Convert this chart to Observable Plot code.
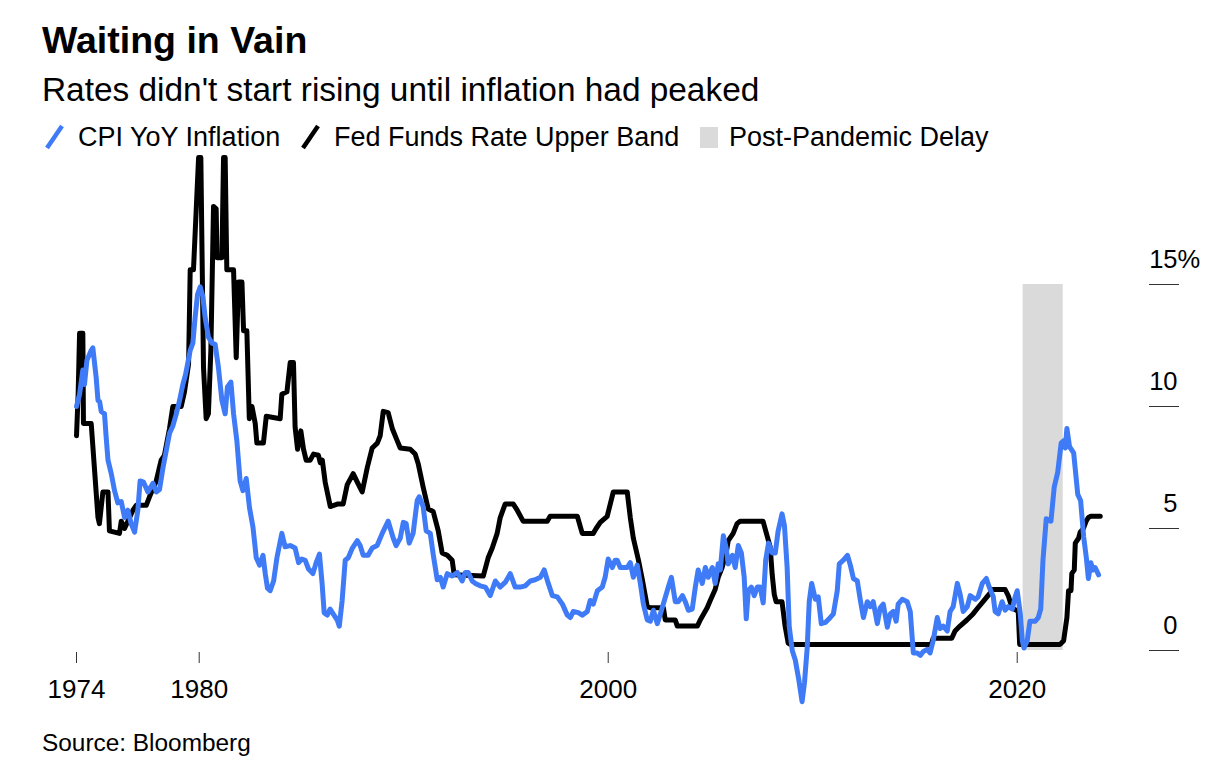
<!DOCTYPE html>
<html>
<head>
<meta charset="utf-8">
<script src="https://cdn.jsdelivr.net/npm/d3@7"></script>
<script src="https://cdn.jsdelivr.net/npm/@observablehq/plot@0.6"></script>
<style>
  html, body { margin: 0; padding: 0; background: #fff; }
  body { font-family: "Liberation Sans", Arial, sans-serif; color: #000; }
  #wrap { position: relative; width: 1231px; height: 768px; overflow: hidden; }
  .abs { position: absolute; white-space: nowrap; line-height: 1; }
  #title { left: 42px; top: 22px; font-size: 37.5px; font-weight: bold; }
  #subtitle { left: 42px; top: 73px; font-size: 33.4px; }
  .leg { top: 123.5px; font-size: 27px; }
  #source { left: 42px; top: 731px; font-size: 24.4px; }
  #chart { position: absolute; left: 0; top: 140px; }
  #chart svg { overflow: visible; }
</style>
</head>
<body>
<div id="wrap">
  <div id="title" class="abs"></div>
  <div id="subtitle" class="abs"></div>
  <div id="legend"></div>
  <div id="chart"></div>
  <div id="source" class="abs"></div>
</div>
<script>
// ---- Text ----
const titleText = "Waiting in Vain";
const subtitleText = "Rates didn't start rising until inflation had peaked";
const sourceText = "Source: Bloomberg";
const seriesNames = ["CPI YoY Inflation", "Fed Funds Rate Upper Band", "Post-Pandemic Delay"];

// ---- Axis ticks ----
const xTicks = [1974, 1980, 2000, 2020];
const yTicks = [0, 5, 10, 15];

// ---- Shaded period (decimal years, value range %) ----
const delayPeriod = [{start: 2020.29, end: 2022.25, low: 0, high: 15}];

// ---- CPI YoY inflation, % (decimal year, value) ----
const cpi = [
[1974.00,10.0],[1974.15,10.5],[1974.31,11.5],[1974.39,10.9],[1974.51,11.9],[1974.72,12.3],[1974.80,12.4],
[1974.96,11.2],[1975.05,10.25],[1975.13,10.2],[1975.21,9.8],[1975.37,9.7],[1975.45,8.75],[1975.54,7.8],
[1975.70,7.25],[1975.86,6.55],[1976.02,6.05],[1976.19,6.1],[1976.35,5.45],[1976.51,5.75],[1976.67,5.2],
[1976.84,4.85],[1977.00,5.75],[1977.11,6.95],[1977.28,6.9],[1977.49,6.5],[1977.74,6.85],[1977.90,6.5],
[1978.06,6.6],[1978.23,7.5],[1978.39,8.2],[1978.55,8.9],[1978.71,9.2],[1978.88,9.7],[1979.04,10.25],
[1979.20,10.9],[1979.33,11.3],[1979.40,11.6],[1979.56,12.3],[1979.69,12.6],[1979.80,13.65],[1979.92,14.6],
[1980.05,14.9],[1980.18,14.5],[1980.29,13.65],[1980.45,12.85],[1980.62,12.6],[1980.78,12.55],[1980.94,11.6],
[1981.11,10.25],[1981.27,9.7],[1981.38,10.8],[1981.55,11.0],[1981.68,9.7],[1981.84,8.6],[1982.00,6.95],
[1982.14,6.55],[1982.30,7.05],[1982.46,5.85],[1982.63,5.05],[1982.79,3.8],[1982.95,3.5],[1983.12,3.9],
[1983.23,3.15],[1983.34,2.55],[1983.47,2.45],[1983.64,2.85],[1983.80,3.8],[1984.04,4.8],[1984.20,4.25],
[1984.45,4.3],[1984.69,4.2],[1984.86,3.6],[1985.02,3.75],[1985.18,3.7],[1985.34,3.35],[1985.56,3.15],
[1985.72,3.6],[1985.88,3.95],[1986.01,2.75],[1986.11,1.55],[1986.26,1.45],[1986.40,1.7],[1986.55,1.5],
[1986.75,1.25],[1986.85,1.0],[1986.99,2.05],[1987.14,3.7],[1987.29,3.8],[1987.49,4.2],[1987.73,4.5],
[1987.87,4.3],[1988.02,3.9],[1988.26,3.9],[1988.46,4.2],[1988.70,4.3],[1988.95,4.8],[1989.24,5.3],
[1989.49,4.6],[1989.63,4.3],[1989.83,4.6],[1989.98,5.25],[1990.12,5.2],[1990.27,4.4],[1990.46,4.8],
[1990.66,6.15],[1990.76,6.3],[1990.95,5.9],[1991.10,4.9],[1991.30,4.8],[1991.44,3.95],[1991.64,2.9],
[1991.79,3.0],[1991.93,2.6],[1992.13,3.15],[1992.37,3.05],[1992.62,3.2],[1992.86,2.85],[1993.01,3.2],
[1993.15,3.2],[1993.35,2.85],[1993.50,2.75],[1993.74,2.65],[1993.99,2.6],[1994.23,2.25],[1994.48,2.85],
[1994.72,2.6],[1994.97,2.8],[1995.21,3.15],[1995.45,2.6],[1995.70,2.6],[1995.94,2.65],[1996.19,2.85],
[1996.43,2.9],[1996.68,3.0],[1996.87,3.3],[1997.07,2.75],[1997.27,2.25],[1997.51,2.2],[1997.76,1.9],
[1998.00,1.45],[1998.15,1.35],[1998.29,1.6],[1998.54,1.55],[1998.73,1.45],[1998.98,1.6],[1999.12,2.05],
[1999.27,1.9],[1999.47,2.45],[1999.71,2.6],[1999.85,3.0],[2000.00,3.75],[2000.20,3.4],[2000.34,3.7],
[2000.44,3.7],[2000.59,3.4],[2000.74,3.4],[2000.93,3.4],[2001.08,3.6],[2001.23,3.0],[2001.42,3.5],
[2001.57,2.75],[2001.72,1.9],[2001.91,1.25],[2002.06,1.2],[2002.21,1.65],[2002.40,1.1],[2002.55,1.5],
[2002.80,2.2],[2002.94,2.6],[2003.09,3.0],[2003.28,2.0],[2003.43,2.0],[2003.63,2.25],[2003.77,2.0],
[2003.92,1.65],[2004.11,1.7],[2004.26,2.6],[2004.40,3.3],[2004.60,2.75],[2004.75,3.4],[2004.89,3.0],
[2005.09,3.4],[2005.23,2.75],[2005.38,3.55],[2005.48,3.3],[2005.63,4.7],[2005.77,4.2],[2005.87,3.55],
[2006.07,3.9],[2006.21,3.4],[2006.36,4.3],[2006.51,4.0],[2006.65,3.0],[2006.75,1.3],[2006.85,2.45],
[2007.00,2.6],[2007.14,2.25],[2007.29,2.6],[2007.43,2.6],[2007.58,1.95],[2007.70,3.7],[2007.84,4.4],
[2008.02,4.0],[2008.17,4.0],[2008.31,4.9],[2008.50,5.6],[2008.62,5.1],[2008.75,3.4],[2008.85,1.0],
[2009.00,0.0],[2009.15,-0.4],[2009.32,-1.2],[2009.48,-2.1],[2009.60,-1.3],[2009.73,0.1],[2009.83,2.0],
[2009.95,2.75],[2010.13,2.1],[2010.27,2.2],[2010.42,1.1],[2010.62,1.15],[2010.80,1.3],[2011.01,1.5],
[2011.20,2.45],[2011.30,3.55],[2011.50,3.7],[2011.70,3.9],[2011.84,3.5],[2011.99,2.95],[2012.18,2.85],
[2012.33,2.05],[2012.48,1.35],[2012.67,2.0],[2012.82,1.8],[2012.96,2.0],[2013.16,1.1],[2013.30,1.75],
[2013.45,1.9],[2013.65,0.95],[2013.79,1.5],[2013.94,1.6],[2014.08,1.2],[2014.18,1.9],[2014.38,2.1],
[2014.62,2.0],[2014.77,1.6],[2014.92,-0.1],[2015.11,-0.1],[2015.26,-0.2],[2015.40,-0.05],[2015.60,0.05],
[2015.74,-0.1],[2015.89,0.4],[2016.09,1.35],[2016.23,0.9],[2016.38,1.0],[2016.58,0.8],[2016.72,1.6],
[2016.87,1.8],[2017.07,2.75],[2017.21,2.3],[2017.36,1.6],[2017.56,1.8],[2017.70,2.25],[2017.95,2.1],
[2018.09,2.2],[2018.29,2.75],[2018.49,2.95],[2018.63,2.6],[2018.83,2.2],[2018.92,1.6],[2019.07,1.5],
[2019.26,2.0],[2019.41,1.65],[2019.56,1.8],[2019.76,1.7],[2019.90,2.2],[2020.00,2.45],[2020.15,1.5],
[2020.25,0.4],[2020.33,0.1],[2020.49,0.4],[2020.62,1.2],[2020.88,1.2],[2021.03,1.35],[2021.15,1.7],
[2021.26,3.7],[2021.42,5.4],[2021.65,5.3],[2021.81,6.7],[2021.98,7.3],[2022.15,8.5],[2022.27,8.6],
[2022.35,8.3],[2022.43,9.1],[2022.56,8.35],[2022.76,8.1],[2022.96,6.4],[2023.10,6.15],[2023.25,4.65],
[2023.38,3.8],[2023.48,2.95],[2023.60,3.6],[2023.70,3.3],[2023.81,3.4],[2023.98,3.1]
];

// ---- Fed funds rate upper band, % (decimal year, value) ----
const fedFunds = [
[1974.00,8.8],[1974.08,10.5],[1974.15,13.0],[1974.31,13.0],[1974.34,9.3],[1974.72,9.3],[1975.05,5.45],
[1975.12,5.2],[1975.29,6.5],[1975.54,6.5],[1975.61,4.9],[1976.10,4.8],[1976.19,5.3],[1976.35,5.0],
[1976.76,5.75],[1976.92,5.95],[1977.41,5.95],[1977.57,6.3],[1977.90,6.95],[1978.14,7.8],[1978.30,8.0],
[1978.55,9.1],[1978.71,10.0],[1979.12,10.0],[1979.28,10.6],[1979.48,11.75],[1979.56,15.6],[1979.72,15.6],
[1979.97,20.2],[1980.08,20.2],[1980.21,11.6],[1980.34,9.5],[1980.45,9.7],[1980.57,12.3],[1980.70,18.2],
[1980.83,18.1],[1980.87,16.1],[1981.11,16.1],[1981.19,20.2],[1981.27,20.2],[1981.35,15.6],[1981.68,15.6],
[1981.81,12.0],[1981.92,15.1],[1982.09,15.1],[1982.17,13.1],[1982.33,13.1],[1982.45,9.5],[1982.58,10.0],
[1982.74,9.3],[1982.82,8.5],[1983.14,8.5],[1983.28,9.6],[1983.96,9.5],[1984.04,10.5],[1984.29,10.6],
[1984.45,11.8],[1984.61,11.8],[1984.69,9.15],[1984.81,8.25],[1984.97,9.0],[1985.10,8.25],[1985.23,7.8],
[1985.43,7.8],[1985.59,8.05],[1985.83,8.0],[1985.92,7.7],[1986.02,7.8],[1986.16,6.9],[1986.41,5.9],
[1986.75,6.0],[1987.04,6.0],[1987.24,6.8],[1987.53,7.25],[1987.73,6.9],[1987.97,6.5],[1988.22,7.5],
[1988.46,8.3],[1988.71,8.5],[1988.85,8.8],[1989.00,9.8],[1989.24,9.75],[1989.44,9.1],[1989.68,8.6],
[1989.83,8.3],[1990.32,8.25],[1990.56,8.05],[1990.71,7.65],[1990.95,6.7],[1991.20,5.8],[1991.44,5.7],
[1991.69,4.9],[1991.88,4.0],[1992.13,3.9],[1992.37,3.7],[1992.47,3.1],[1993.89,3.05],[1994.13,3.8],
[1994.33,4.2],[1994.57,4.8],[1994.72,5.45],[1994.96,6.0],[1995.36,6.0],[1995.55,5.75],[1995.84,5.3],
[1997.02,5.3],[1997.16,5.5],[1998.49,5.5],[1998.73,4.8],[1999.27,4.8],[1999.41,5.0],[1999.61,5.25],
[1999.95,5.5],[2000.10,6.0],[2000.25,6.5],[2000.93,6.5],[2001.08,5.45],[2001.23,4.6],[2001.48,3.7],
[2001.67,2.9],[2001.91,1.8],[2002.06,1.75],[2002.70,1.75],[2002.79,1.25],[2003.28,1.25],[2003.38,1.0],
[2004.36,1.0],[2004.50,1.25],[2004.84,1.75],[2004.99,2.05],[2005.23,2.5],[2005.38,3.0],[2005.57,3.4],
[2005.77,4.0],[2005.87,4.5],[2006.11,4.8],[2006.30,5.2],[2006.45,5.3],[2007.57,5.3],[2007.77,4.7],
[2007.92,4.25],[2008.02,3.1],[2008.12,2.3],[2008.21,2.0],[2008.50,2.0],[2008.65,1.0],[2008.80,0.3],
[2008.90,0.25],[2015.80,0.25],[2015.89,0.5],[2016.80,0.5],[2016.96,0.8],[2017.20,1.0],[2017.54,1.25],
[2017.84,1.5],[2018.08,1.75],[2018.33,2.0],[2018.57,2.25],[2018.82,2.5],[2019.41,2.5],[2019.56,2.25],
[2019.75,1.75],[2020.05,1.6],[2020.12,0.25],[2022.10,0.25],[2022.27,0.4],[2022.43,1.35],[2022.51,2.45],
[2022.63,2.45],[2022.67,3.15],[2022.79,3.3],[2022.84,4.4],[2023.00,4.6],[2023.08,4.85],[2023.24,5.0],
[2023.37,5.3],[2023.48,5.45],[2023.60,5.5],[2024.06,5.5]
];

// ---- Colours ----
const cpiColor = "#3f7bf6";
const fedColor = "#000000";
const shadeColor = "#dadada";

// ---- Header / legend ----
document.getElementById("title").textContent = titleText;
document.getElementById("subtitle").textContent = subtitleText;
document.getElementById("source").textContent = sourceText;

const legend = document.getElementById("legend");
function slash(left, color) {
  const ns = "http://www.w3.org/2000/svg";
  const s = document.createElementNS(ns, "svg");
  s.setAttribute("width", 24); s.setAttribute("height", 28);
  s.style.position = "absolute"; s.style.left = left + "px"; s.style.top = "123px";
  const l = document.createElementNS(ns, "line");
  l.setAttribute("x1", 4); l.setAttribute("y1", 25); l.setAttribute("x2", 19); l.setAttribute("y2", 3);
  l.setAttribute("stroke", color); l.setAttribute("stroke-width", 4.5);
  s.appendChild(l); legend.appendChild(s);
}
function legText(left, txt) {
  const d = document.createElement("div");
  d.className = "abs leg"; d.style.left = left + "px"; d.textContent = txt;
  legend.appendChild(d);
}
slash(43, cpiColor); legText(78, seriesNames[0]);
slash(299, fedColor); legText(334, seriesNames[1]);
const sq = document.createElement("div");
sq.style.cssText = `position:absolute;left:700px;top:127px;width:18px;height:21px;background:${shadeColor}`;
legend.appendChild(sq);
legText(729, seriesNames[2]);

// ---- Chart ----
const chart = Plot.plot({
  width: 1231,
  height: 580,
  marginLeft: 76,
  marginRight: 83,
  marginTop: 22,
  marginBottom: 70,
  x: {domain: [1974, 2026.42]},
  y: {domain: [0, 20]},
  style: {fontFamily: "'Liberation Sans', Arial, sans-serif", fontSize: "26px", color: "#000", background: "transparent"},
  marks: [
    Plot.rect(delayPeriod, {x1: "start", x2: "end", y1: "low", y2: "high", fill: shadeColor}),
    Plot.line(fedFunds, {x: d => d[0], y: d => d[1], stroke: fedColor, strokeWidth: 5, strokeLinejoin: "round"}),
    Plot.line(cpi, {x: d => d[0], y: d => d[1], stroke: cpiColor, strokeWidth: 5, strokeLinejoin: "round"}),
    Plot.axisX({ticks: xTicks, tickFormat: d => String(d), tickSize: 11, tickPadding: 16, dy: 2, stroke: "#333", fill: "#000", fontSize: 26}),
    Plot.axisY({anchor: "right", ticks: yTicks, tickSize: 30, tickFormat: () => "", stroke: "#333"}),
    Plot.text(yTicks, {y: d => d, text: d => String(d), frameAnchor: "right", dx: 29, dy: -25, textAnchor: "end", fontSize: 25.5, fill: "#000"}),
    Plot.text(yTicks.filter(d => d === d3.max(yTicks)), {y: d => d, text: () => "%", frameAnchor: "right", dx: 29, dy: -25, textAnchor: "start", fontSize: 25.5, fill: "#000"})
  ]
});
document.getElementById("chart").appendChild(chart);
</script>
</body>
</html>
